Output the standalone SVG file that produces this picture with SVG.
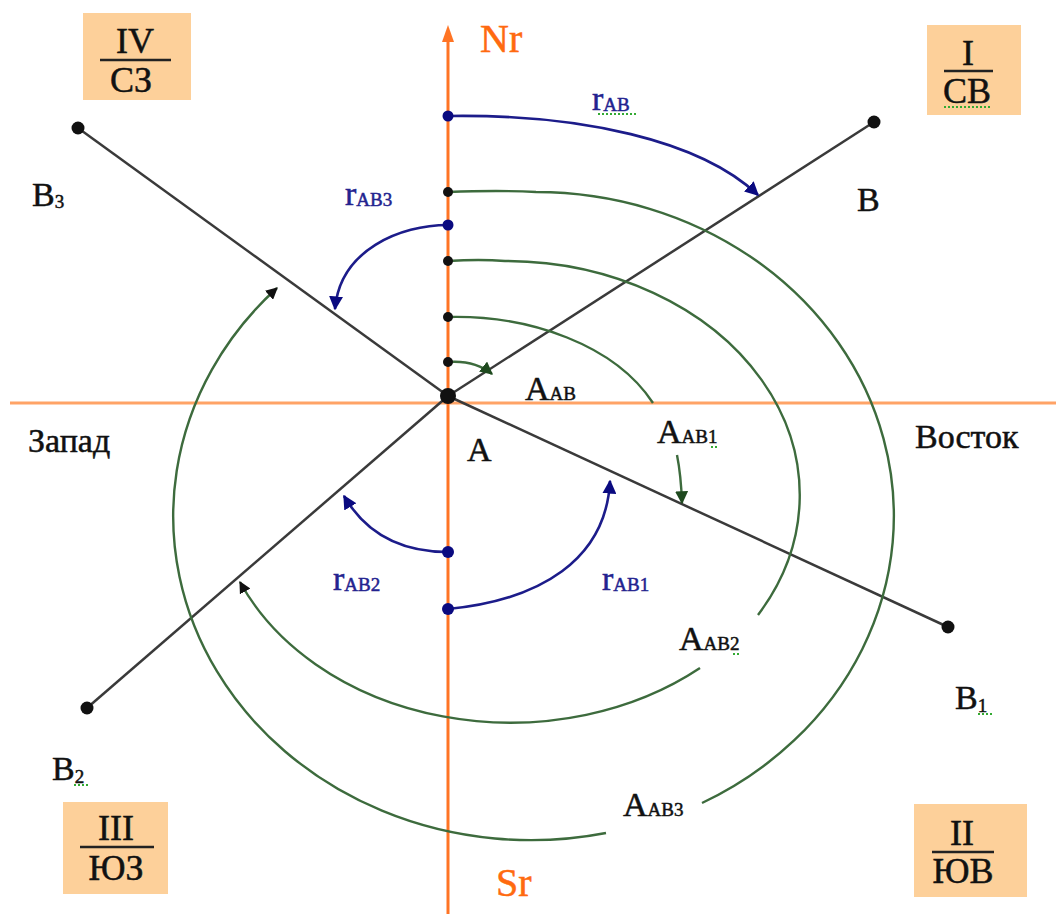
<svg xmlns="http://www.w3.org/2000/svg" width="1056" height="914" viewBox="0 0 1056 914">
<style>
.bg{fill:#ffffff}
.box{fill:#fdd09a}
.t{font-family:"Liberation Serif","Times New Roman",serif;fill:#111111;stroke:#111111;stroke-width:0.5}
.lbl{font-size:34px}
.sub{font-size:19px}
.bx{font-size:36px;text-anchor:middle}
.blue{fill:#23238f;stroke:#23238f}
.or{fill:#ff6a10;stroke:#ff6a10;font-size:40px}
.seg{stroke:#3a3a3a;stroke-width:2.5;fill:none}
.arc{stroke:#3d6b3d;stroke-width:2.4;fill:none}
.rarc{stroke:#1c1c8a;stroke-width:2.6;fill:none}
.vax{stroke:#ff7424;stroke-width:3;fill:none}
.hax{stroke:#ffa366;stroke-width:3;fill:none}
.dot{fill:#111111}
.bdot{fill:#0a0a80}
.sq{stroke:#33aa33;stroke-width:2;stroke-dasharray:2 2;fill:none}
</style>
<defs>
<marker id="ab" viewBox="0 0 10 10" refX="9" refY="5" markerWidth="14" markerHeight="14" markerUnits="userSpaceOnUse" orient="auto"><path d="M0,0 L10,5 L0,10 z" fill="#0a0a80"/></marker>
<marker id="ag" viewBox="0 0 10 10" refX="9" refY="5" markerWidth="13" markerHeight="13" markerUnits="userSpaceOnUse" orient="auto"><path d="M0,0 L10,5 L0,10 z" fill="#1f4a1f"/></marker>
<marker id="ak" viewBox="0 0 10 10" refX="9" refY="5" markerWidth="12" markerHeight="12" markerUnits="userSpaceOnUse" orient="auto"><path d="M0,0 L10,5 L0,10 z" fill="#111111"/></marker>
</defs>
<rect class="bg" x="0" y="0" width="1056" height="914"/>

<g id="axes">
<line class="hax" x1="10" y1="403" x2="1056" y2="403"/>
<line class="vax" x1="448" y1="40" x2="448" y2="914"/>
<path d="M448,25 L454,42 L442,42 z" fill="#ff7424"/>
</g>

<g id="connectors">
<line class="seg" x1="448" y1="396" x2="874" y2="122"/>
<line class="seg" x1="448" y1="396" x2="948" y2="627"/>
<line class="seg" x1="448" y1="396" x2="87" y2="708"/>
<line class="seg" x1="448" y1="396" x2="78" y2="128"/>
<path class="arc" d="M448,362 Q475,360 492,374" marker-end="url(#ag)" stroke="#2e8a2e"/>
<path class="arc" d="M448,317 C530,315 615,345 653,403"/>
<path class="arc" d="M677,455 Q681,475 682,503" marker-end="url(#ag)"/>
<path class="arc" d="M448,261 Q480,259 505,261 A295,234 0 0 1 758,615"/>
<path class="arc" d="M700,668 A295,234 0 0 1 240,582" marker-end="url(#ak)"/>
<path class="arc" d="M448,192 Q500,190 536,192 A358,324 0 0 1 702,803"/>
<path class="arc" d="M606,833 A358,324 0 0 1 277,288" marker-end="url(#ak)"/>
<path class="rarc" d="M448,116 C580,114 700,140 758,195" marker-end="url(#ab)"/>
<path class="rarc" d="M448,225 C400,225 340,250 335,309" marker-end="url(#ab)"/>
<path class="rarc" d="M448,552 C400,552 365,532 344,496" marker-end="url(#ab)"/>
<path class="rarc" d="M448,609 C540,600 606,560 610,481" marker-end="url(#ab)"/>
</g>

<g id="axis-dots">
<circle class="bdot" cx="448" cy="116" r="5.5"/>
<circle class="dot" cx="448" cy="192" r="5"/>
<circle class="bdot" cx="448" cy="225" r="5.5"/>
<circle class="dot" cx="448" cy="261" r="5"/>
<circle class="dot" cx="448" cy="317" r="5"/>
<circle class="dot" cx="448" cy="362" r="5"/>
<circle class="bdot" cx="448" cy="552" r="6"/>
<circle class="bdot" cx="448" cy="609" r="6"/>
</g>

<g id="node-A">
<circle class="dot" cx="448" cy="396" r="8"/>
<text class="t lbl" x="467" y="461">А</text>
</g>
<g id="node-B">
<circle class="dot" cx="874" cy="122" r="6.5"/>
<text class="t lbl" x="857" y="211">В</text>
</g>
<g id="node-B1">
<circle class="dot" cx="948" cy="627" r="6.5"/>
<text class="t lbl" x="955" y="709">В<tspan class="sub" font-size="20" dy="3">1</tspan></text>
<line class="sq" x1="978" y1="714" x2="994" y2="714"/>
</g>
<g id="node-B2">
<circle class="dot" cx="87" cy="708" r="6.5"/>
<text class="t lbl" x="52" y="780">В<tspan class="sub" font-size="20" dy="3">2</tspan></text>
<line class="sq" x1="74" y1="785" x2="90" y2="785"/>
</g>
<g id="node-B3">
<circle class="dot" cx="78" cy="128" r="6.5"/>
<text class="t lbl" x="32" y="206">В<tspan class="sub" font-size="20" dy="2">3</tspan></text>
</g>

<g id="quarter-IV">
<rect class="box" x="83" y="13" width="108" height="87"/>
<text class="t bx" x="135" y="53">IV</text>
<line x1="100" y1="60" x2="171" y2="60" stroke="#222" stroke-width="2.5"/>
<text class="t bx" x="131" y="92">СЗ</text>
</g>
<g id="quarter-I">
<rect class="box" x="927" y="25" width="94" height="90"/>
<text class="t bx" x="968" y="65">I</text>
<line x1="944" y1="71" x2="993" y2="71" stroke="#222" stroke-width="2.5"/>
<text class="t bx" x="967" y="103">СВ</text>
<line class="sq" x1="944" y1="107" x2="991" y2="107"/>
</g>
<g id="quarter-III">
<rect class="box" x="63" y="802" width="105" height="92"/>
<text class="t bx" x="116" y="840">III</text>
<line x1="80" y1="847" x2="154" y2="847" stroke="#222" stroke-width="2.5"/>
<text class="t bx" x="116" y="880">ЮЗ</text>
</g>
<g id="quarter-II">
<rect class="box" x="914" y="804" width="113" height="93"/>
<text class="t bx" x="962" y="845">II</text>
<line x1="932" y1="852" x2="994" y2="852" stroke="#222" stroke-width="2.5"/>
<text class="t bx" x="963" y="883">ЮВ</text>
</g>

<g id="labels">
<text class="t or" x="480" y="52">Nr</text>
<text class="t or" x="496" y="896">Sr</text>
<text class="t lbl" x="28" y="452">Запад</text>
<text class="t lbl" x="915" y="448">Восток</text>
<text class="t lbl" x="525" y="400">А<tspan class="sub">АВ</tspan></text>
<text class="t lbl" x="657" y="443">А<tspan class="sub">АВ1</tspan></text>
<line class="sq" x1="711" y1="447" x2="719" y2="447"/>
<text class="t lbl" x="679" y="650">А<tspan class="sub">АВ2</tspan></text>
<line class="sq" x1="733" y1="654" x2="741" y2="654"/>
<text class="t lbl" x="623" y="816">А<tspan class="sub">АВ3</tspan></text>
<text class="t lbl blue" x="592" y="110">r<tspan class="sub" dy="1">АВ</tspan></text>
<line class="sq" x1="598" y1="114" x2="636" y2="114"/>
<text class="t lbl blue" x="345" y="205">r<tspan class="sub" dy="1">АВ3</tspan></text>
<text class="t lbl blue" x="333" y="590">r<tspan class="sub" dy="1">АВ2</tspan></text>
<text class="t lbl blue" x="602" y="590">r<tspan class="sub" dy="1">АВ1</tspan></text>
</g>
</svg>
